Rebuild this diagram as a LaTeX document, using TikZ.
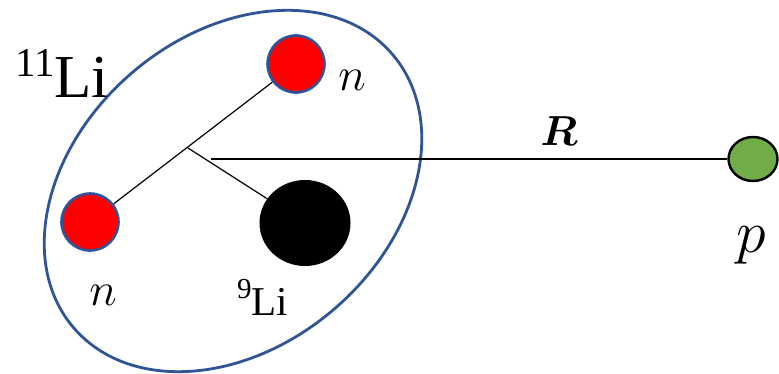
\RequirePackage{fix-cm}
\documentclass[tikz,border=0pt]{standalone}
\usepackage{fontspec}
\setmainfont{Liberation Serif}
\usepackage{bm}
\usetikzlibrary{shapes.geometric}
\definecolor{nblue}{HTML}{2F5597}
\definecolor{pgreen}{HTML}{70AD47}
\begin{document}
\begin{tikzpicture}[x=1pt,y=1pt,
  neutron/.style={circle, fill=red, draw=nblue, line width=2.6pt, minimum size=57pt, inner sep=0pt},
  core/.style={ellipse, fill=black, minimum width=91pt, minimum height=86pt, inner sep=0pt},
  proton/.style={ellipse, fill=pgreen, draw=black, line width=2.4pt, minimum width=49pt, minimum height=44pt, inner sep=0pt},
  link/.style={line width=1.2pt},
  lbl/.style={inner sep=0pt, anchor=base}]
\useasboundingbox (0,0) rectangle (779,373);
\draw[nblue, line width=2.8pt, rotate around={40.7:(233,182)}] (233,182) ellipse [x radius=210, y radius=155.5];
\node[neutron] (n1) at (296,309) {};
\node[neutron] (n2) at (90,151) {};
\node[core] (li9) at (305,150) {};
\node[proton] (p) at (753,214) {};
\coordinate (j) at (188,225);
\coordinate (rs) at (211,214);
\draw[link] (n2) -- (n1);
\draw[link] (j) -- (li9);
\draw[link] (rs) -- (p);
\node[lbl, anchor=base west, font=\fontsize{61}{61}\selectfont] (t11) at (15,276) {{\fontsize{41}{41}\selectfont\raisebox{21pt}{11}}Li};
\node[lbl, anchor=base west, font=\fontsize{41}{41}\selectfont] (t9) at (237,58) {{\fontsize{29}{29}\selectfont\raisebox{17pt}{9}}Li};
\node[lbl, font=\fontsize{47}{47}\selectfont] (tn1) at (352,283) {$n$};
\node[lbl, font=\fontsize{47}{47}\selectfont] (tn2) at (103,68) {$n$};
\node[lbl, font=\fontsize{42}{42}\selectfont] (tR) at (559,228) {$\bm{R}$};
\node[lbl, font=\fontsize{60}{60}\selectfont] (tp) at (751,121) {$p$};
\end{tikzpicture}
\end{document}
